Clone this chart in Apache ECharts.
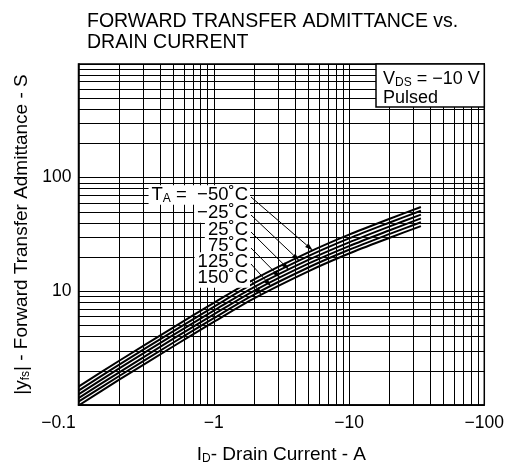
<!DOCTYPE html>
<html>
<head>
<meta charset="utf-8">
<script src="https://cdn.jsdelivr.net/npm/echarts@6/dist/echarts.min.js"></script>
<style>
html, body { margin: 0; padding: 0; background: #fff; }
#chart { width: 507px; height: 471px; }
</style>
</head>
<body>
<div id="chart"></div>
<script>
// drain current |ID| (A), plotted as negative values on the labels
var drainCurrent = [0.1, 0.2, 0.5, 1, 2, 5, 10, 20, 34];
// |yfs| (S) for each ambient temperature
var yfsM50 = [1.45, 2.45, 4.8, 7.9, 12.8, 22.0, 31.5, 43.5, 55.2];
var yfsM25 = [1.34, 2.27, 4.44, 7.31, 11.85, 20.4, 29.2, 40.3, 51.1];
var yfs25  = [1.24, 2.10, 4.12, 6.77, 10.97, 18.9, 27.0, 37.3, 47.3];
var yfs75  = [1.15, 1.94, 3.81, 6.27, 10.16, 17.5, 25.0, 34.5, 43.8];
var yfs125 = [1.07, 1.80, 3.53, 5.81, 9.41, 16.2, 23.2, 32.0, 40.5];
var yfs150 = [0.99, 1.67, 3.27, 5.38, 8.71, 15.0, 21.5, 29.6, 37.5];
var tempLabels = ['−50˚C', '−25˚C', '25˚C', '75˚C', '125˚C', '150˚C'];
// where each label's arrow touches its curve
var arrowTipI = [5.4, 4.3, 3.6, 3.1, 2.65, 2.25];
var arrowTipY = [22.9, 18.6, 15.5, 13.2, 11.1, 9.3];
// tick labels and minor grid
var xTickLabels = [0.1, 1, 10, 100];
var yTickLabels = [10, 100];
var minorX = [0.2, 0.3, 0.4, 0.5, 0.6, 0.7, 0.8, 0.9, 2, 3, 4, 5, 6, 7, 8, 9, 20, 30, 40, 50, 60, 70, 80, 90];
var minorY = [2, 3, 4, 5, 6, 7, 8, 9, 20, 30, 40, 50, 60, 70, 80, 90, 200, 300, 400, 500, 600, 700, 800, 900];

var FONT = 'Liberation Sans';
var chart = echarts.init(document.getElementById('chart'));

function pairs(ys) {
    var res = [];
    for (var i = 0; i < drainCurrent.length; i++) {
        res.push([drainCurrent[i], ys[i]]);
    }
    return res;
}
function nice(v) {
    return Number(v.toPrecision(4));
}
function subRich(size) {
    return {
        m: { fontFamily: FONT, fontSize: size, color: '#000', lineHeight: size + 1 },
        s: { fontFamily: FONT, fontSize: Math.round(size * 0.64), color: '#000', lineHeight: Math.round(size * 0.64), verticalAlign: 'bottom' }
    };
}

var curves = [yfsM50, yfsM25, yfs25, yfs75, yfs125, yfs150];
var series = [];
// minor grid lines
series.push({
    type: 'line',
    z: 1,
    silent: true,
    data: [],
    markLine: {
        silent: true,
        symbol: 'none',
        animation: false,
        label: { show: false },
        lineStyle: { color: '#000', width: 1, type: 'solid' },
        data: minorX.map(function (v) { return { xAxis: v }; })
            .concat(minorY.map(function (v) { return { yAxis: v }; }))
    }
});
for (var k = 0; k < curves.length; k++) {
    series.push({
        name: tempLabels[k],
        type: 'line',
        z: 3,
        data: pairs(curves[k]),
        symbol: 'none',
        smooth: 0.3,
        lineStyle: { color: '#000', width: 2 }
    });
}

var option = {
    animation: false,
    backgroundColor: '#fff',
    title: {
        text: 'FORWARD TRANSFER ADMITTANCE vs.\nDRAIN CURRENT',
        left: 82,
        top: 6,
        textStyle: { fontFamily: FONT, fontSize: 19.5, fontWeight: 'normal', color: '#000', lineHeight: 21 }
    },
    grid: {
        left: 78.5,
        right: 20.5,
        top: 64,
        bottom: 66,
        show: true,
        borderColor: '#000',
        borderWidth: 1.5,
        backgroundColor: 'transparent'
    },
    xAxis: {
        type: 'log',
        logBase: 10,
        min: 0.1,
        max: 100,
        name: '{m|I}{s|D}{m|- Drain Current - A}',
        nameLocation: 'middle',
        nameGap: 40,
        nameTextStyle: { rich: subRich(19) },
        axisLine: { show: true, lineStyle: { color: '#000', width: 1.5 } },
        axisTick: { show: false },
        splitLine: { show: true, lineStyle: { color: '#000', width: 1 } },
        axisLabel: {
            margin: 9,
            fontFamily: FONT,
            fontSize: 17.5,
            color: '#000',
            formatter: function (v) {
                var n = nice(v);
                if (xTickLabels.indexOf(n) < 0) return '';
                if (n === xTickLabels[0]) return '{l|−' + n + '}';
                return '−' + n;
            },
            rich: { l: { fontFamily: FONT, fontSize: 17.5, color: '#000', padding: [0, 40, 0, 0] } }
        }
    },
    yAxis: {
        type: 'log',
        logBase: 10,
        min: 1,
        max: 1000,
        name: '{m||y}{s|fs}{m|| - Forward Transfer Admittance - S}',
        nameLocation: 'middle',
        nameGap: 47,
        nameRotate: 90,
        nameTextStyle: { rich: subRich(19) },
        axisLine: { show: true, lineStyle: { color: '#000', width: 1.5 } },
        axisTick: { show: false },
        splitLine: { show: true, lineStyle: { color: '#000', width: 1 } },
        axisLabel: {
            margin: 7,
            fontFamily: FONT,
            fontSize: 17.5,
            color: '#000',
            formatter: function (v) {
                var n = nice(v);
                return yTickLabels.indexOf(n) >= 0 ? String(n) : '';
            }
        }
    },
    series: series
};
chart.setOption(option);

// annotations: temperature labels with arrows, and the test condition box
var labelRight = 250;
var labelY = [195, 213, 230, 246, 262, 278];
var graphics = [];
for (var i = 0; i < tempLabels.length; i++) {
    var txt = i === 0 ? '{m|T}{s|A}{m| =  ' + tempLabels[i] + '}' : '{m|' + tempLabels[i] + '}';
    graphics.push({
        type: 'text',
        z: 100,
        x: labelRight,
        y: labelY[i],
        style: {
            text: txt,
            rich: subRich(18.5),
            align: 'right',
            verticalAlign: 'middle',
            backgroundColor: '#fff',
            padding: [0, 2, 0, 3]
        }
    });
    var tip = chart.convertToPixel({ gridIndex: 0 }, [arrowTipI[i], arrowTipY[i]]);
    var sx = labelRight + 1, sy = labelY[i] + 2;
    var dx = tip[0] - sx, dy = tip[1] - sy;
    var len = Math.sqrt(dx * dx + dy * dy);
    var ux = dx / len, uy = dy / len;
    var hl = 8, hw = 2.5;
    var bx = tip[0] - ux * hl, by = tip[1] - uy * hl;
    graphics.push({
        type: 'line',
        z: 101,
        shape: { x1: sx, y1: sy, x2: bx, y2: by },
        style: { stroke: '#000', lineWidth: 1 }
    });
    graphics.push({
        type: 'polygon',
        z: 101,
        shape: { points: [[tip[0], tip[1]], [bx - uy * hw, by + ux * hw], [bx + uy * hw, by - ux * hw]] },
        style: { fill: '#000' }
    });
}
var corner = chart.convertToPixel({ gridIndex: 0 }, [100, 1000]);
graphics.push({
    type: 'rect',
    z: 100,
    shape: { x: 376, y: corner[1], width: corner[0] - 376, height: 107 - corner[1] },
    style: { fill: '#fff', stroke: '#000', lineWidth: 1.5 }
});
graphics.push({
    type: 'text',
    z: 101,
    x: 383,
    y: 70,
    style: {
        text: '{m|V}{s|DS}{m| = −10 V}\n{m|Pulsed}',
        rich: subRich(18)
    }
});
chart.setOption({ graphic: graphics });
</script>
</body>
</html>
